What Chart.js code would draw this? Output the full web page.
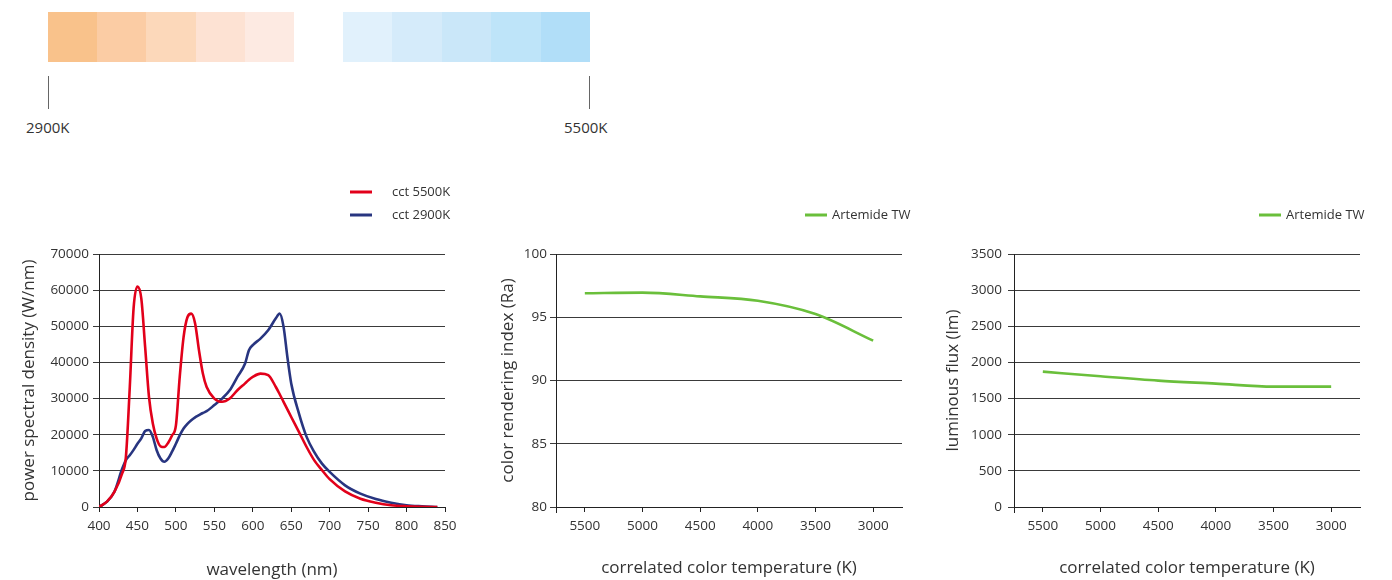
<!DOCTYPE html>
<html>
<head>
<meta charset="utf-8">
<script src="https://cdn.jsdelivr.net/npm/chart.js@4.4.1/dist/chart.umd.min.js"></script>
<style>
  body { margin: 0; width: 1392px; height: 580px; background: #fff; position: relative; overflow: hidden; font-family: "Open Sans", sans-serif; }
  .blk { position: absolute; top: 12px; height: 50px; }
  .mark { position: absolute; top: 76px; width: 1px; height: 33px; background: #666; }
  .klab { position: absolute; top: 117px; font-size: 15px; color: #333; }
  canvas { position: absolute; }
</style>
</head>
<body>
<div id="bar"></div>
<div class="mark" style="left:48px"></div>
<div class="mark" style="left:589px"></div>
<div class="klab" style="left:26px">2900K</div>
<div class="klab" style="left:564px">5500K</div>

<div style="position:absolute;left:0;top:170px;width:470px;height:410px"><canvas id="c1"></canvas></div>
<div style="position:absolute;left:470px;top:170px;width:460px;height:410px"><canvas id="c2"></canvas></div>
<div style="position:absolute;left:930px;top:170px;width:462px;height:410px"><canvas id="c3"></canvas></div>

<script>
// colour strip on top
const warmSteps = ['#F9C28B', '#FBCCA4', '#FCD8BA', '#FDE2D3', '#FDEAE2']
const coolSteps = ['#E1F1FC', '#D5EBFA', '#CAE7F9', '#BEE4F9', '#B1DEF8']

// spectrum chart
const wavelengths = [400,410,420,430,435,440,445,450,455,460,465,470,475,480,485,490,495,500,505,510,515,520,525,530,535,540,550,560,570,580,590,595,600,610,620,630,635,640,645,650,660,670,680,690,700,720,740,760,780,800,820,840]
const cct5500 = [0,1400,4200,9200,13900,33000,55000,61000,57700,44300,30500,23100,18900,16800,16600,17800,19800,22500,36000,47000,52500,53500,50800,43400,37000,33200,30000,29100,30000,32300,34200,35200,36000,36900,36500,33200,31200,29100,27000,24900,20800,16600,12900,10200,7700,4300,2300,1200,500,200,50,0]
const cct2900 = [0,1400,4200,10500,13000,14300,15800,17500,19000,21000,21300,19400,15700,13400,12500,13400,15300,17500,19800,21700,23000,24000,24800,25400,26000,26500,28200,30000,32300,36000,39700,43400,44800,46600,48900,52200,53500,49900,41500,34200,25900,19400,15200,12000,9700,6000,3700,2200,1200,500,200,0]

// CRI and flux charts
const cctLabels = ['5500', '5000', '4500', '4000', '3500', '3000']
const criValues = [96.9, 96.95, 96.65, 96.3, 95.25, 93.15]
const fluxValues = [1873, 1808, 1748, 1707, 1665, 1665]

const bar = document.getElementById('bar')
warmSteps.forEach((c, i) => {
  let d = document.createElement('div')
  d.className = 'blk'
  d.style.left = (48 + i * 49.2) + 'px'
  d.style.width = '49.5px'
  d.style.background = c
  bar.appendChild(d)
})
coolSteps.forEach((c, i) => {
  let d = document.createElement('div')
  d.className = 'blk'
  d.style.left = (343 + i * 49.4) + 'px'
  d.style.width = '49.7px'
  d.style.background = c
  bar.appendChild(d)
})

const FONT = '"Open Sans", sans-serif'
const TXT = '#333'
const GRID = '#3a3a3a'

const lineLegend = {
  id: 'lineLegend',
  afterDraw(chart, args, opts) {
    const ctx = chart.ctx
    ctx.save()
    ctx.font = '13px ' + FONT
    ctx.textBaseline = 'middle'
    chart.data.datasets.forEach((ds, i) => {
      const y = opts.y + i * 23
      ctx.strokeStyle = ds.borderColor
      ctx.lineWidth = 3
      ctx.beginPath()
      ctx.moveTo(opts.x, y)
      ctx.lineTo(opts.x + 22, y)
      ctx.stroke()
      ctx.fillStyle = TXT
      ctx.fillText(ds.label, opts.textX, y)
    })
    // little tick where the y axis runs past the x axis
    if (opts.cornerTick) {
      const a = chart.chartArea
      ctx.strokeStyle = '#222'
      ctx.lineWidth = 1
      ctx.beginPath()
      ctx.moveTo(Math.round(a.left) + 0.5, a.bottom)
      ctx.lineTo(Math.round(a.left) + 0.5, a.bottom + 6)
      ctx.stroke()
    }
    ctx.restore()
  }
}

function yAxis(min, max, step, title, width, titlePad, tickPad) {
  return {
    min: min, max: max,
    afterFit: s => { s.width = width },
    ticks: { stepSize: step, color: TXT, padding: tickPad, font: { family: FONT, size: 13.5 }, callback: v => String(v) },
    grid: { color: GRID, lineWidth: 1, tickLength: 6 },
    border: { color: '#222', width: 1 },
    title: { display: true, text: title, color: TXT, padding: { top: titlePad, bottom: 0 }, font: { family: FONT, size: 17, lineHeight: 1.2 } }
  }
}

function xTitle(text, padBottom) {
  return { display: true, text: text, color: TXT, padding: { top: 0, bottom: padBottom }, font: { family: FONT, size: 17, lineHeight: 1.2 } }
}

new Chart(document.getElementById('c1'), {
  type: 'line',
  data: {
    datasets: [
      { label: 'cct 5500K', data: wavelengths.map((w, i) => ({ x: w, y: cct5500[i] })), borderColor: '#E2001A', borderWidth: 2.6, pointRadius: 0, cubicInterpolationMode: 'monotone' },
      { label: 'cct 2900K', data: wavelengths.map((w, i) => ({ x: w, y: cct2900[i] })), borderColor: '#283580', borderWidth: 2.6, pointRadius: 0, cubicInterpolationMode: 'monotone' }
    ]
  },
  options: {
    responsive: true, maintainAspectRatio: false, animation: false,
    layout: { padding: { left: 0, top: 84, right: 25, bottom: 0 } },
    plugins: { legend: { display: false }, tooltip: { enabled: false }, lineLegend: { x: 350, textX: 392, y: 22 } },
    scales: {
      x: {
        type: 'linear', min: 400, max: 850,
        afterFit: s => { s.height = 73 },
        ticks: { stepSize: 50, color: TXT, padding: 6, maxRotation: 0, font: { family: FONT, size: 13.5 } },
        grid: { drawOnChartArea: false, color: '#222', tickLength: 5 },
        border: { color: '#222', width: 1 },
        title: xTitle('wavelength (nm)', 0)
      },
      y: yAxis(0, 70000, 10000, 'power spectral density (W/nm)', 99, 19, 4)
    }
  },
  plugins: [lineLegend]
})

function cctChart(id, values, min, max, step, title, yWidth, titlePad, tickPad, legendX) {
  return new Chart(document.getElementById(id), {
    type: 'line',
    data: {
      labels: cctLabels,
      datasets: [{ label: 'Artemide TW', data: values, borderColor: '#6ABF3B', borderWidth: 2.6, pointRadius: 0, cubicInterpolationMode: 'monotone' }]
    },
    options: {
      responsive: true, maintainAspectRatio: false, animation: false,
      layout: { padding: { left: 0, top: 84, right: id === 'c2' ? 28 : 32, bottom: 0 } },
      plugins: { legend: { display: false }, tooltip: { enabled: false }, lineLegend: { x: legendX, textX: legendX + 27, y: 45, cornerTick: true } },
      scales: {
        x: {
          type: 'category', offset: true,
          afterFit: s => { s.height = 73 },
          ticks: { color: TXT, padding: 6, maxRotation: 0, font: { family: FONT, size: 13.5 } },
          grid: { offset: false, drawOnChartArea: false, color: '#222', tickLength: 5 },
          border: { color: '#222', width: 1 },
          title: xTitle('correlated color temperature (K)', 2)
        },
        y: yAxis(min, max, step, title, yWidth, titlePad, tickPad)
      }
    },
    plugins: [lineLegend]
  })
}

cctChart('c2', criValues, 80, 100, 5, 'color rendering index (Ra)', 86, 28, 3, 335)
cctChart('c3', fluxValues, 0, 3500, 500, 'luminous flux (lm)', 84, 13, 6, 329)
</script>
</body>
</html>
